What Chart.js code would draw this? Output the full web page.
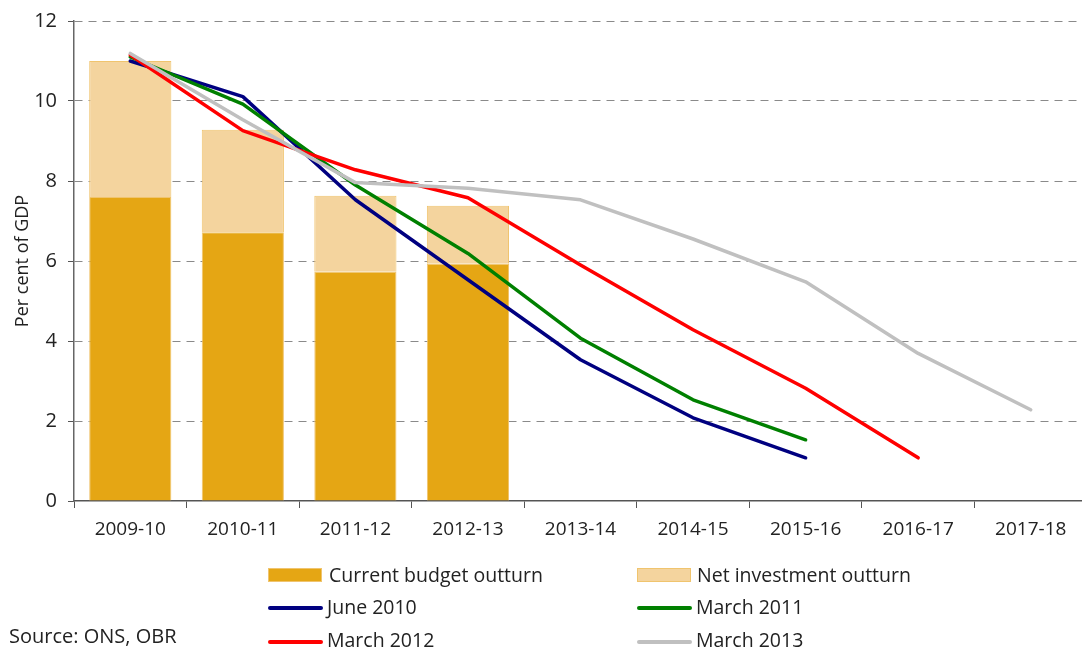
<!DOCTYPE html>
<html>
<head>
<meta charset="utf-8">
<script src="https://cdn.jsdelivr.net/npm/chart.js@4.4.1/dist/chart.umd.min.js"></script>
<style>
  html, body { margin:0; padding:0; background:#fff; overflow:hidden; }
  #wrap { position:relative; width:1082px; height:652px; overflow:hidden; font-family:"Open Sans", sans-serif; color:#222; }
  #cv { position:absolute; left:0; top:0; }
  .leg { position:absolute; font-size:19.5px; line-height:22px; white-space:nowrap; }
  .sw { position:absolute; width:54px; height:14px; box-sizing:border-box; }
  .ln { position:absolute; width:55px; height:4px; border-radius:2px; }
</style>
</head>
<body>
<div id="wrap">
  <canvas id="cv" width="1090" height="652" style="width:1090px;height:652px"></canvas>
  <div class="sw" style="left:268px;top:568px;background:#E5A614;border:1px solid #F0C46E"></div>
  <div class="leg" style="left:329px;top:564px">Current budget outturn</div>
  <div class="sw" style="left:637px;top:568px;background:#F4D49E;border:1px solid #F0C46E"></div>
  <div class="leg" style="left:697px;top:564px">Net investment outturn</div>
  <div class="ln" style="left:268px;top:606px;background:#000080"></div>
  <div class="leg" style="left:327px;top:596px">June 2010</div>
  <div class="ln" style="left:637px;top:606px;background:#008000"></div>
  <div class="leg" style="left:696px;top:596px">March 2011</div>
  <div class="ln" style="left:268px;top:640px;background:#FF0000"></div>
  <div class="leg" style="left:327px;top:629px">March 2012</div>
  <div class="ln" style="left:637px;top:640px;background:#C0C0C0"></div>
  <div class="leg" style="left:696px;top:629px">March 2013</div>
  <div class="leg" style="left:9px;top:625px;font-size:20px">Source: ONS, OBR</div>
</div>
<script>
const categories = ["2009-10","2010-11","2011-12","2012-13","2013-14","2014-15","2015-16","2016-17","2017-18"];
const currentBudget = [7.6, 6.72, 5.73, 5.93, null, null, null, null, null];
const netInvestment = [3.4, 2.56, 1.9, 1.45, null, null, null, null, null];
const june2010 = [11.0, 10.11, 7.53, 5.53, 3.53, 2.08, 1.08, null, null];
const march2011 = [11.1, 9.92, 7.9, 6.19, 4.07, 2.53, 1.53, null, null];
const march2012 = [11.15, 9.26, 8.28, 7.58, 5.9, 4.28, 2.82, 1.08, null];
const march2013 = [11.19, 9.53, 7.96, 7.82, 7.53, 6.55, 5.48, 3.69, 2.28];
const yTicks = [0, 2, 4, 6, 8, 10, 12];

const FONT = "'Open Sans', sans-serif";
function lineDs(label, data, color, order) {
  return { type:'line', label, data, borderColor:color, backgroundColor:color, borderWidth:3.5,
    pointRadius:0, pointHoverRadius:0, tension:0, fill:false, order, spanGaps:false,
    stack:'line_' + label, borderCapStyle:'round', borderJoinStyle:'round' };
}

new Chart(document.getElementById('cv'), {
  type: 'bar',
  data: {
    labels: categories,
    datasets: [
      { label:'Current budget outturn', data:currentBudget, backgroundColor:'#E5A614', borderColor:'#F0C46E', borderWidth:1, stack:'bars', order:10, barPercentage:0.73, categoryPercentage:1.0 },
      { label:'Net investment outturn', data:netInvestment, backgroundColor:'#F4D49E', borderColor:'#F0C46E', borderWidth:1, stack:'bars', order:10, barPercentage:0.73, categoryPercentage:1.0 },
      lineDs('June 2010', june2010, '#000080', 4),
      lineDs('March 2011', march2011, '#008000', 3),
      lineDs('March 2012', march2012, '#FF0000', 2),
      lineDs('March 2013', march2013, '#C0C0C0', 1)
    ]
  },
  options: {
    responsive:false, animation:false, devicePixelRatio:1,
    layout: { padding: { top:21, right:3, left:0, bottom:0 } },
    plugins: { legend:{display:false}, tooltip:{enabled:false} },
    scales: {
      x: {
        stacked:true,
        offset:true,
        grid: { offset:true, drawOnChartArea:false, drawTicks:true, tickLength:7, color:'#555', tickColor:'#555', lineWidth:1 },
        border: { display:true, color:'#555', width:1.5 },
        ticks: { font:{ family:FONT, size:19 }, color:'#222', padding:10, maxRotation:0, autoSkip:false },
        afterFit: s => { s.height = 151; }
      },
      y: {
        stacked:true,
        min:0, max:12,
        afterBuildTicks: s => { s.ticks = yTicks.map(v => ({ value:v })); },
        grid: {
          drawTicks:true, tickLength:6,
          color: ctx => (ctx.tick && ctx.tick.value === 0) ? 'rgba(0,0,0,0)' : '#8a8a8a',
          tickColor:'#555', lineWidth:1
        },
        border: { display:true, color:'#666', width:1.5, dash:[8,6] },
        ticks: { font:{ family:FONT, size:20, lineHeight:1 }, color:'#222', padding:11 },
        title: { display:true, text:'Per cent of GDP', font:{ family:FONT, size:18 }, color:'#222', padding:{ top:12, bottom:0 } },
        afterFit: s => { s.width = 74; }
      }
    }
  }
});
</script>
</body>
</html>
